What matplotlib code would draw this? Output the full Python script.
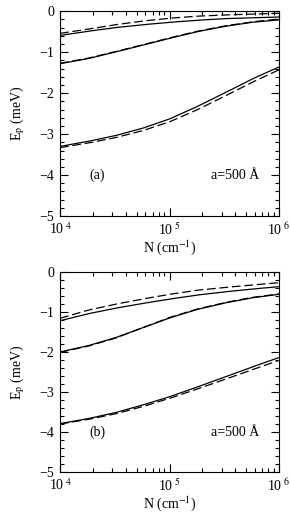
import numpy as np
import matplotlib
matplotlib.use("Agg")
import matplotlib.pyplot as plt
from matplotlib.ticker import MultipleLocator, LogLocator, FixedLocator, NullFormatter

plt.rcParams['font.family'] = ['Liberation Serif', 'DejaVu Serif']
plt.rcParams['mathtext.fontset'] = 'stix'

# density N (cm^-1), sampled on a log grid
N = [1e4, 10**4.25, 10**4.5, 10**4.75, 1e5, 10**5.25, 10**5.5, 10**5.75, 1e6]

# panel (a): solid / dashed pairs, E_p in meV
a_c1_solid = [-0.59, -0.49, -0.40, -0.33, -0.27, -0.22, -0.18, -0.16, -0.14]
a_c1_dash = [-0.54, -0.44, -0.33, -0.24, -0.17, -0.12, -0.09, -0.07, -0.05]
a_c2_solid = [-1.28, -1.16, -1.00, -0.83, -0.66, -0.50, -0.37, -0.27, -0.21]
a_c2_dash = [-1.27, -1.15, -0.99, -0.82, -0.65, -0.49, -0.36, -0.26, -0.19]
a_c3_solid = [-3.30, -3.18, -3.04, -2.86, -2.63, -2.33, -2.00, -1.66, -1.36]
a_c3_dash = [-3.33, -3.22, -3.09, -2.92, -2.70, -2.41, -2.08, -1.74, -1.43]

# panel (b)
b_c1_solid = [-1.22, -1.05, -0.91, -0.79, -0.68, -0.58, -0.50, -0.43, -0.37]
b_c1_dash = [-1.16, -0.96, -0.81, -0.68, -0.56, -0.46, -0.39, -0.33, -0.27]
b_c2_solid = [-2.00, -1.85, -1.65, -1.40, -1.15, -0.94, -0.78, -0.65, -0.56]
b_c2_dash = [-2.01, -1.86, -1.66, -1.40, -1.14, -0.93, -0.77, -0.64, -0.55]
b_c3_solid = [-3.79, -3.67, -3.52, -3.33, -3.12, -2.88, -2.63, -2.38, -2.14]
b_c3_dash = [-3.80, -3.69, -3.55, -3.37, -3.16, -2.93, -2.69, -2.45, -2.21]

panels = [
    ("(a)", [(a_c1_solid, a_c1_dash), (a_c2_solid, a_c2_dash), (a_c3_solid, a_c3_dash)]),
    ("(b)", [(b_c1_solid, b_c1_dash), (b_c2_solid, b_c2_dash), (b_c3_solid, b_c3_dash)]),
]
xticks = [1e4, 1e5, 1e6]
xticklabels = [r"10$^{\ 4}$", r"10$^{\ 5}$", r"10$^{\ 6}$"]
yticks = [0, -1, -2, -3, -4, -5]
yticklabels = ["0", "\u22121", "\u22122", "\u22123", "\u22124", "\u22125"]

fig = plt.figure(figsize=(2.9, 5.12), dpi=100)
rects = [[0.207, 0.578, 0.755, 0.400], [0.207, 0.078, 0.755, 0.391]]

Nf = np.logspace(4, 6, 200)
for rect, (tag, curves) in zip(rects, panels):
    ax = fig.add_axes(rect)
    for solid, dash in curves:
        ys = np.interp(np.log10(Nf), np.log10(N), solid)
        yd = np.interp(np.log10(Nf), np.log10(N), dash)
        ax.plot(Nf, ys, color='black', lw=0.9, solid_capstyle='butt')
        ax.plot(Nf, yd, color='black', lw=0.9, dashes=(7, 3))
    ax.set_xscale('log')
    ax.set_xlim(1e4, 1e6)
    ax.set_ylim(-5, 0)
    ax.xaxis.set_major_locator(FixedLocator(xticks))
    ax.set_xticklabels(xticklabels)
    ax.xaxis.set_minor_locator(LogLocator(base=10, subs=np.arange(2, 10)))
    ax.xaxis.set_minor_formatter(NullFormatter())
    ax.set_yticks(yticks)
    ax.set_yticklabels(yticklabels)
    ax.yaxis.set_minor_locator(MultipleLocator(0.2))
    ax.tick_params(which='both', direction='in', top=True, right=True, labelsize=10, width=0.8)
    ax.tick_params(which='major', length=6)
    ax.tick_params(axis='x', which='major', pad=4)
    ax.tick_params(axis='y', which='major', pad=4)
    ax.tick_params(which='minor', length=3)
    for s in ax.spines.values():
        s.set_linewidth(0.8)
    ax.set_xlabel(r"N (cm$^{-1}$)", fontsize=10, labelpad=0)
    ax.set_ylabel(r"E$_{\rm p}$ (meV)", fontsize=10, labelpad=9)
    ax.text(10**4.27, -4.0, tag, fontsize=10, va='center', ha='left')
    ax.text(10**5.82, -4.0, "a=500 \u00c5", fontsize=10, va='center', ha='right')

fig.savefig("out.png", dpi=100)
